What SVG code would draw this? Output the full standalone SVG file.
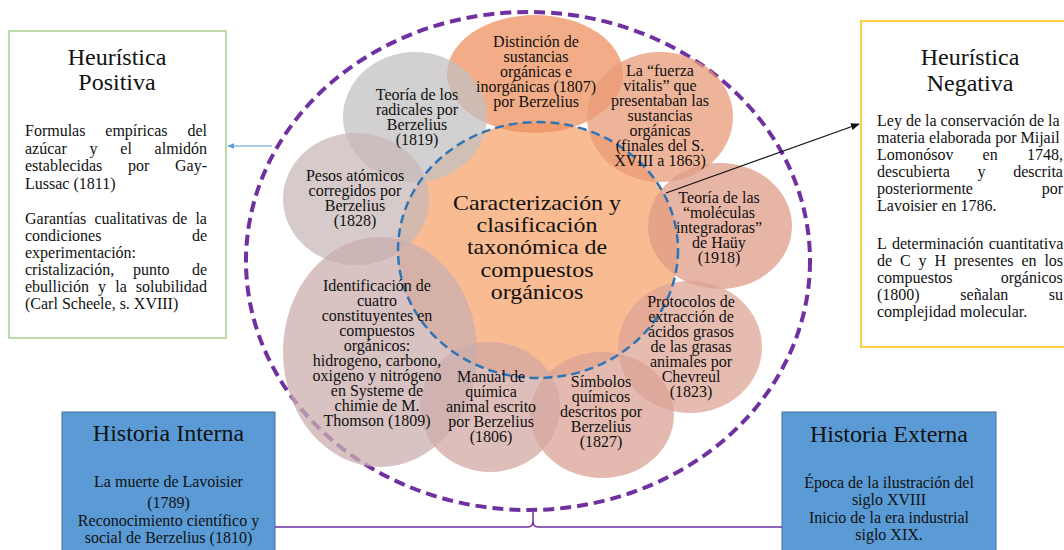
<svg xmlns="http://www.w3.org/2000/svg" width="1064" height="550" viewBox="0 0 1064 550">
<style>
text{font-family:"Liberation Serif","Times New Roman",serif;fill:#111;}
.c{font-size:16px;text-anchor:middle;}
.t{font-size:24px;text-anchor:middle;}
.m{font-size:21px;text-anchor:middle;}
.b{font-size:16px;}
.circ{fill-opacity:0.75;stroke:none;}
.hb{fill:#5B9BD5;stroke:#41719C;stroke-width:1;}
</style>
<defs>
<marker id="ab" viewBox="0 0 10 10" refX="9" refY="5" markerWidth="7" markerHeight="7" orient="auto" markerUnits="userSpaceOnUse">
<path d="M0,1 L10,5 L0,9 z" fill="#5B9BD5"/>
</marker>
<marker id="ak" viewBox="0 0 10 10" refX="9" refY="5" markerWidth="9" markerHeight="9" orient="auto" markerUnits="userSpaceOnUse">
<path d="M0,1 L10,5 L0,9 z" fill="#111"/>
</marker>
</defs>
<rect width="1064" height="550" fill="#fff"/>

<g id="outer-ring">
<ellipse cx="528" cy="261" rx="282" ry="249" fill="none" stroke="#7030A0" stroke-width="4" stroke-dasharray="11 6"/>
</g>

<g id="central-fill">
<ellipse cx="538" cy="250" rx="140" ry="128" fill="#F8BB92"/>
</g>

<g id="n-distincion">
<ellipse class="circ" cx="535" cy="74" rx="88" ry="59" fill="#EE905F"/>
</g>
<g id="n-radicales">
<ellipse class="circ" cx="415" cy="117" rx="72" ry="65" fill="#C3C0C0"/>
</g>
<g id="n-pesos">
<ellipse class="circ" cx="356" cy="199" rx="73" ry="66" fill="#C8B8B8"/>
</g>
<g id="n-vitalis">
<ellipse class="circ" cx="660" cy="117" rx="73" ry="65" fill="#E89B77"/>
</g>
<g id="n-moleculas">
<ellipse class="circ" cx="720" cy="226" rx="72" ry="63" fill="#DF9C87"/>
</g>
<g id="n-protocolos">
<ellipse class="circ" cx="690" cy="347" rx="72" ry="66" fill="#DEA496"/>
</g>
<g id="n-simbolos">
<ellipse class="circ" cx="602" cy="415" rx="72" ry="63" fill="#DBA396"/>
</g>
<g id="n-manual">
<ellipse class="circ" cx="490" cy="407" rx="70" ry="65" fill="#D3A8A3"/>
</g>
<g id="n-identificacion">
<ellipse class="circ" cx="380" cy="352" rx="97" ry="115" fill="#CBAEAE"/>
</g>

<g id="n-central">
<ellipse cx="538" cy="250" rx="140" ry="128" fill="none" stroke="#2E75B6" stroke-width="2.5" stroke-dasharray="9 5"/>
<g transform="translate(537 0) scale(1.14 1) translate(-537 0)">
<text class="m"><tspan x="537" y="210">Caracterización y</tspan><tspan x="537" y="232">clasificación</tspan><tspan x="537" y="254">taxonómica de</tspan><tspan x="537" y="277">compuestos</tspan><tspan x="537" y="299">orgánicos</tspan></text>
</g>
</g>

<g id="labels">
<text class="c"><tspan x="536" y="47">Distinción de</tspan><tspan x="536" y="62">sustancias</tspan><tspan x="536" y="77">orgánicas e</tspan><tspan x="536" y="92">inorgánicas (1807)</tspan><tspan x="536" y="107">por Berzelius</tspan></text>
<text class="c"><tspan x="417" y="100">Teoría de los</tspan><tspan x="417" y="115">radicales por</tspan><tspan x="417" y="130">Berzelius</tspan><tspan x="417" y="145">(1819)</tspan></text>
<text class="c"><tspan x="355" y="180.5">Pesos atómicos</tspan><tspan x="355" y="195.5">corregidos por</tspan><tspan x="355" y="210.5">Berzelius</tspan><tspan x="355" y="225.5">(1828)</tspan></text>
<text class="c"><tspan x="660" y="76">La “fuerza</tspan><tspan x="660" y="91">vitalis” que</tspan><tspan x="660" y="106">presentaban las</tspan><tspan x="660" y="121">sustancias</tspan><tspan x="660" y="136">orgánicas</tspan><tspan x="660" y="151">(finales del S.</tspan><tspan x="660" y="166">XVIII a 1863)</tspan></text>
<text class="c"><tspan x="719" y="202.5">Teoría de las</tspan><tspan x="719" y="217.5">“moléculas</tspan><tspan x="719" y="232.5">integradoras”</tspan><tspan x="719" y="247.5">de Haüy</tspan><tspan x="719" y="262.5">(1918)</tspan></text>
<text class="c"><tspan x="691" y="307">Protocolos de</tspan><tspan x="691" y="322">extracción de</tspan><tspan x="691" y="337">ácidos grasos</tspan><tspan x="691" y="352">de las grasas</tspan><tspan x="691" y="367">animales por</tspan><tspan x="691" y="382">Chevreul</tspan><tspan x="691" y="397">(1823)</tspan></text>
<text class="c"><tspan x="377" y="291">Identificación de</tspan><tspan x="377" y="306">cuatro</tspan><tspan x="377" y="321">constituyentes en</tspan><tspan x="377" y="336">compuestos</tspan><tspan x="377" y="351">orgánicos:</tspan><tspan x="377" y="366">hidrogeno, carbono,</tspan><tspan x="377" y="381">oxigeno y nitrógeno</tspan><tspan x="377" y="396">en Systeme de</tspan><tspan x="377" y="411">chimie de M.</tspan><tspan x="377" y="426">Thomson (1809)</tspan></text>
<text class="c"><tspan x="491" y="382">Manual de</tspan><tspan x="491" y="397">química</tspan><tspan x="491" y="412">animal escrito</tspan><tspan x="491" y="427">por Berzelius</tspan><tspan x="491" y="442">(1806)</tspan></text>
<text class="c"><tspan x="601" y="387">Símbolos</tspan><tspan x="601" y="402">químicos</tspan><tspan x="601" y="417">descritos por</tspan><tspan x="601" y="432">Berzelius</tspan><tspan x="601" y="447">(1827)</tspan></text>
</g>

<g id="n-heuristica-positiva">
<rect x="9" y="31" width="217" height="307" fill="#fff" stroke="#A9D18E" stroke-width="1.5"/>
<text class="t"><tspan x="117" y="65">Heurística</tspan><tspan x="117" y="90">Positiva</tspan></text>
<text class="b">
<tspan x="25" y="136">Formulas</tspan><tspan x="105.3" y="136">empíricas</tspan><tspan x="187.4" y="136">del</tspan>
<tspan x="25" y="153.5">azúcar</tspan><tspan x="89.5" y="153.5">y</tspan><tspan x="120.3" y="153.5">el</tspan><tspan x="154.6" y="153.5">almidón</tspan>
<tspan x="25" y="171">establecidas</tspan><tspan x="128" y="171">por</tspan><tspan x="175" y="171">Gay-</tspan>
<tspan x="25" y="188.5">Lussac (1811)</tspan>
<tspan x="25" y="224">Garantías</tspan><tspan x="94.4" y="224">cualitativas</tspan><tspan x="172.2" y="224">de</tspan><tspan x="195.4" y="224">la</tspan>
<tspan x="25" y="241">condiciones</tspan><tspan x="191.9" y="241">de</tspan>
<tspan x="25" y="258">experimentación:</tspan>
<tspan x="25" y="275">cristalización,</tspan><tspan x="133" y="275">punto</tspan><tspan x="191.9" y="275">de</tspan>
<tspan x="25" y="292">ebullición</tspan><tspan x="98.1" y="292">y</tspan><tspan x="115.2" y="292">la</tspan><tspan x="135.8" y="292">solubilidad</tspan>
<tspan x="25" y="309">(Carl Scheele, s. XVIII)</tspan>
</text>
</g>

<g id="n-heuristica-negativa">
<rect x="861" y="21" width="220" height="326" fill="#fff" stroke="#FFC000" stroke-width="1.5"/>
<text class="t"><tspan x="970" y="65">Heurística</tspan><tspan x="970" y="91">Negativa</tspan></text>
<text class="b">
<tspan x="877" y="126">Ley de la conservación de la</tspan>
<tspan x="877" y="143">materia elaborada por Mijail</tspan>
<tspan x="877" y="160">Lomonósov</tspan><tspan x="982.6" y="160">en</tspan><tspan x="1027" y="160">1748,</tspan>
<tspan x="877" y="177">descubierta</tspan><tspan x="977.6" y="177">y</tspan><tspan x="1013.2" y="177">descrita</tspan>
<tspan x="877" y="194">posteriormente</tspan><tspan x="1041.7" y="194">por</tspan>
<tspan x="877" y="211">Lavoisier en 1786.</tspan>
<tspan x="877" y="249">L</tspan><tspan x="892" y="249">determinación</tspan><tspan x="988.7" y="249">cuantitativa</tspan>
<tspan x="877" y="266">de</tspan><tspan x="900" y="266">C</tspan><tspan x="918.6" y="266">y</tspan><tspan x="934.5" y="266">H</tspan><tspan x="954" y="266">presentes</tspan><tspan x="1021.4" y="266">en</tspan><tspan x="1044.4" y="266">los</tspan>
<tspan x="877" y="283">compuestos</tspan><tspan x="1000.8" y="283">orgánicos</tspan>
<tspan x="877" y="300">(1800)</tspan><tspan x="960.3" y="300">señalan</tspan><tspan x="1048.8" y="300">su</tspan>
<tspan x="877" y="317">complejidad molecular.</tspan>
</text>
</g>

<g id="n-historia-interna">
<rect x="62" y="412" width="213" height="145" class="hb"/>
<text class="t"><tspan x="168.5" y="441">Historia Interna</tspan></text>
<text class="c"><tspan x="168.5" y="487">La muerte de Lavoisier</tspan><tspan x="168.5" y="508">(1789)</tspan><tspan x="168.5" y="526">Reconocimiento científico y</tspan><tspan x="168.5" y="543">social de Berzelius (1810)</tspan></text>
</g>

<g id="n-historia-externa">
<rect x="782" y="412" width="214" height="145" class="hb"/>
<text class="t"><tspan x="889" y="442">Historia Externa</tspan></text>
<text class="c"><tspan x="889" y="488">Época de la ilustración del</tspan><tspan x="889" y="505">siglo XVIII</tspan><tspan x="889" y="523">Inicio de la era industrial</tspan><tspan x="889" y="540">siglo XIX.</tspan></text>
</g>

<g id="connectors" fill="none">
<line x1="272" y1="146" x2="228" y2="146" stroke="#5B9BD5" stroke-width="1.2" marker-end="url(#ab)"/>
<line x1="666" y1="193" x2="859" y2="124" stroke="#111" stroke-width="1.2" marker-end="url(#ak)"/>
<path d="M275,527 H528 Q533,527 533,521 V512 M533,521 Q533,527 538,527 H782" stroke="#7030A0" stroke-width="1.5"/>
</g>
</svg>
